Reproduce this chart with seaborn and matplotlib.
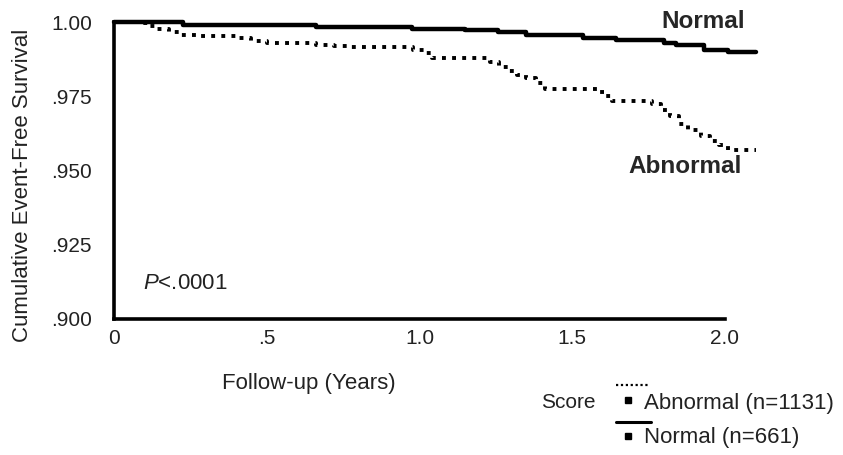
import numpy as np
import pandas as pd
import matplotlib
matplotlib.use("Agg")
import matplotlib.pyplot as plt
from matplotlib.lines import Line2D
import seaborn as sns

# ---- data ----
normal_t = [0.0, 0.226, 0.66, 0.977, 1.15, 1.256, 1.348, 1.534, 1.643, 1.80, 1.84, 1.93, 2.01, 2.10]
normal_s = [1.0, 0.9990, 0.9983, 0.9977, 0.9972, 0.9965, 0.9955, 0.9946, 0.9938, 0.9930, 0.9922, 0.9907, 0.9898, 0.9898]

abn_t = [0.0, 0.08, 0.11, 0.14, 0.18, 0.22, 0.27, 0.40, 0.45, 0.50, 0.66, 0.72, 0.77,
         0.98, 1.02, 1.04, 1.23, 1.26, 1.29, 1.32, 1.35, 1.38, 1.41, 1.58, 1.61, 1.63,
         1.76, 1.79, 1.82, 1.85, 1.88, 1.92, 1.95, 1.98, 2.01, 2.10]
abn_s = [1.0, 0.9995, 0.9985, 0.9975, 0.9965, 0.9957, 0.9953, 0.9945, 0.9935, 0.9928, 0.9922, 0.9918, 0.9915,
         0.9905, 0.9895, 0.9880, 0.9865, 0.9850, 0.9835, 0.9822, 0.9810, 0.9795, 0.9775, 0.9765, 0.9752, 0.9735,
         0.9725, 0.9705, 0.9685, 0.9655, 0.9635, 0.9615, 0.9600, 0.9585, 0.9570, 0.9570]

x_ticks = [0, 0.5, 1.0, 1.5, 2.0]
x_ticklabels = ["0", ".5", "1.0", "1.5", "2.0"]
y_ticks = [0.900, 0.925, 0.950, 0.975, 1.000]
y_ticklabels = [".900", ".925", ".950", ".975", "1.00"]

groups = ["Abnormal (n=1131)", "Normal (n=661)"]

# ---- style ----
sns.set_theme(style="white")
plt.rcParams["font.family"] = ["Liberation Sans", "DejaVu Sans"]
plt.rcParams["mathtext.fontset"] = "custom"
plt.rcParams["mathtext.it"] = "Liberation Sans:italic"
plt.rcParams["mathtext.rm"] = "Liberation Sans"

W, H = 843, 455
fig = plt.figure(figsize=(W / 100, H / 100), dpi=100)
ax = fig.add_axes([114 / W, 1 - 319 / H, (755.5 - 114) / W, (319 - 22) / H])

df_n = pd.DataFrame({"t": normal_t, "s": normal_s})
df_a = pd.DataFrame({"t": abn_t, "s": abn_s})

sns.lineplot(data=df_n, x="t", y="s", ax=ax, color="black", lw=3.2,
             drawstyle="steps-post", clip_on=False, estimator=None, sort=False)
sns.lineplot(data=df_a, x="t", y="s", ax=ax, color="black", lw=2.8,
             drawstyle="steps-post", clip_on=False, estimator=None, sort=False,
             dashes=False, linestyle=(0, (1.0, 1.6)), dash_capstyle="butt")

ax.set_xlim(0, 2.1)
ax.set_ylim(0.9, 1.0)
ax.set_xticks(x_ticks)
ax.set_xticklabels(x_ticklabels, fontsize=15)
ax.set_yticks(y_ticks)
ax.set_yticklabels(y_ticklabels, fontsize=15)
ax.tick_params(axis="both", length=0, colors="#222222")
ax.tick_params(axis="x", pad=7)
ax.tick_params(axis="y", pad=16)

for s in ["top", "right"]:
    ax.spines[s].set_visible(False)
for s in ["left", "bottom"]:
    ax.spines[s].set_linewidth(2.6)
    ax.spines[s].set_color("black")
ax.spines["bottom"].set_bounds(0, 2.0)
ax.spines["left"].set_bounds(0.9, 1.0)

ax.set_xlabel("Follow-up (Years)", fontsize=16, va="center", ha="center", color="#222222")
ax.xaxis.set_label_coords((309 - 114) / 641.5, (319 - 383) / 297)
ax.set_ylabel("Cumulative Event-Free Survival", fontsize=16, va="center", ha="center", color="#222222")
ax.yaxis.set_label_coords((22 - 114) / 641.5, (319 - 185) / 297)

# curve labels
ax.text(2.065, 1.0003, "Normal", fontsize=17.5, fontweight="bold", ha="right", va="center", clip_on=False)
ax.text(2.056, 0.9515, "Abnormal", fontsize=17.5, fontweight="bold", ha="right", va="center", clip_on=False)
ax.text(0.095, 0.9121, "$P$<.0001", fontsize=16, ha="left", va="center", color="#222222")

# legend (drawn manually, matching the reference arrangement)
def fx(px):
    return px / W

def fy(py):
    return 1 - py / H

fig.text(fx(541), fy(403), "Score", fontsize=15, ha="left", va="center", color="#222222")
fig.add_artist(Line2D([fx(616), fx(650)], [fy(385), fy(385)], color="black", lw=1.6,
                      linestyle=(0, (1, 1.2)), transform=fig.transFigure))
fig.add_artist(Line2D([fx(628)], [fy(400)], marker="s", markersize=5, color="black",
                      linestyle="none", transform=fig.transFigure))
fig.text(fx(644), fy(403), groups[0], fontsize=16, ha="left", va="center", color="#222222")
fig.add_artist(Line2D([fx(616), fx(651)], [fy(422), fy(422)], color="black", lw=2.2,
                      transform=fig.transFigure))
fig.add_artist(Line2D([fx(628)], [fy(436)], marker="s", markersize=5, color="black",
                      linestyle="none", transform=fig.transFigure))
fig.text(fx(644), fy(438), groups[1], fontsize=16, ha="left", va="center", color="#222222")

fig.savefig("out.png", dpi=100)
